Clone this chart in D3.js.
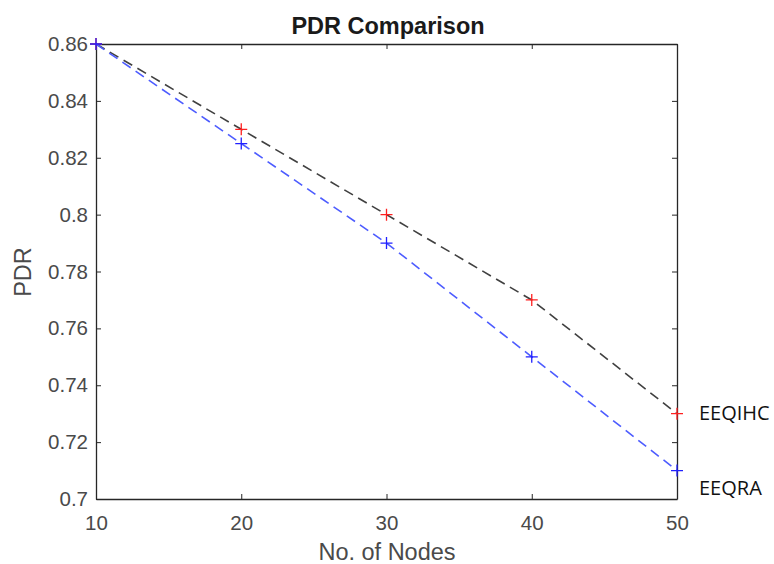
<!DOCTYPE html>
<html>
<head>
<meta charset="utf-8">
<script src="https://cdn.jsdelivr.net/npm/d3@7"></script>
<style>
  body { margin: 0; background: #fff; }
  svg { display: block; }
  .axis text { font-family: "Liberation Sans", Arial, sans-serif; font-size: 20.5px; fill: #4a4a4a; }
  .axis path, .axis line { stroke: #262626; }
</style>
</head>
<body>
<svg width="774" height="564"></svg>
<script>
let nodes = [10, 20, 30, 40, 50];
let eeqihc = [0.86, 0.83, 0.80, 0.77, 0.73];
let eeqra = [0.86, 0.825, 0.79, 0.75, 0.71];
let yTicks = [0.7, 0.72, 0.74, 0.76, 0.78, 0.8, 0.82, 0.84, 0.86];

let svg = d3.select("svg");
let margin = {left: 96, right: 97, top: 44, bottom: 65};
let width = 774 - margin.left - margin.right;
let height = 564 - margin.top - margin.bottom;

let g = svg.append("g").attr("transform", "translate(" + margin.left + "," + margin.top + ")");

let x = d3.scaleLinear().domain([10, 50]).range([0, width]);
let y = d3.scaleLinear().domain([0.7, 0.86]).range([height, 0]);

// box axes, ticks pointing inward
g.append("g").attr("class", "axis")
  .attr("transform", "translate(0," + height + ")")
  .call(d3.axisBottom(x).tickValues(nodes).tickSizeInner(-5).tickSizeOuter(0).tickPadding(16))
g.append("g").attr("class", "axis")
  .call(d3.axisTop(x).tickValues(nodes).tickSizeInner(-5).tickSizeOuter(0).tickFormat(""))
g.append("g").attr("class", "axis")
  .call(d3.axisLeft(y).tickValues(yTicks).tickSizeInner(-5).tickSizeOuter(0).tickPadding(8)
    .tickFormat(d => d3.format("")(+d.toFixed(2))))
g.append("g").attr("class", "axis")
  .attr("transform", "translate(" + width + ",0)")
  .call(d3.axisRight(y).tickValues(yTicks).tickSizeInner(-5).tickSizeOuter(0).tickFormat(""))

g.selectAll(".axis path").attr("stroke-width", 1.3);

let series = [
  {name: "EEQIHC", values: eeqihc, line: "#404040", marker: "#ff2020"},
  {name: "EEQRA", values: eeqra, line: "#4d5cff", marker: "#2020ff"}
];

let line = d3.line().x((d, i) => x(nodes[i])).y(d => y(d));

series.forEach(s => {
  g.append("path")
    .attr("d", line(s.values))
    .attr("fill", "none")
    .attr("stroke", s.line)
    .attr("stroke-width", 1.6)
    .attr("stroke-dasharray", "10,6");

  g.selectAll(".m-" + s.name)
    .data(s.values)
    .enter()
    .append("path")
    .attr("transform", (d, i) => "translate(" + x(nodes[i]) + "," + y(d) + ")")
    .attr("d", "M-6,0H6M0,-6V6")
    .attr("stroke", s.marker)
    .attr("stroke-width", 1.3);
});

// series labels
g.append("text").text("EEQIHC")
  .attr("x", width + 22).attr("y", 420 - margin.top)
  .style("font-family", "'Open Sans', sans-serif").style("font-size", "20px").style("fill", "#111");
g.append("text").text("EEQRA")
  .attr("x", width + 22).attr("y", 495 - margin.top)
  .style("font-family", "'Open Sans', sans-serif").style("font-size", "20px").style("fill", "#111");

svg.append("text").text("PDR Comparison")
  .attr("x", 388).attr("y", 34)
  .attr("text-anchor", "middle")
  .style("font-family", "'Liberation Sans', Arial, sans-serif").style("font-size", "23.5px")
  .style("font-weight", "bold").style("fill", "#1a1a1a");

svg.append("text").text("No. of Nodes")
  .attr("x", 387).attr("y", 560)
  .attr("text-anchor", "middle")
  .style("font-family", "'Liberation Sans', Arial, sans-serif").style("font-size", "23.5px").style("fill", "#4a4a4a");

svg.append("text").text("PDR")
  .attr("transform", "translate(31,272) rotate(-90)")
  .attr("text-anchor", "middle")
  .style("font-family", "'Liberation Sans', Arial, sans-serif").style("font-size", "23.5px").style("fill", "#4a4a4a");
</script>
</body>
</html>
